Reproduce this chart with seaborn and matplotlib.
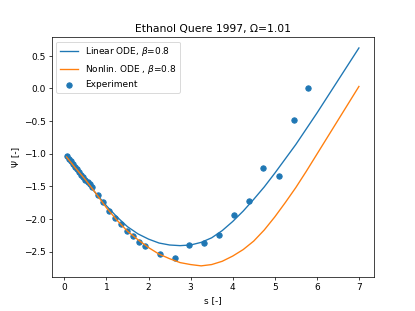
import numpy as np
import seaborn as sns
import matplotlib.pyplot as plt

# model curves
s_model = [0.05, 0.25, 0.5, 0.75, 1.0, 1.25, 1.5, 1.75, 2.0, 2.25, 2.5, 2.75, 3.0,
           3.25, 3.5, 3.75, 4.0, 4.25, 4.5, 4.75, 5.0, 5.25, 5.5, 5.75, 6.0,
           6.25, 6.5, 6.75, 7.0]
psi_linear = [-1.05, -1.21, -1.41, -1.61, -1.80, -1.97, -2.12, -2.23, -2.31, -2.37, -2.40, -2.41, -2.40,
              -2.36, -2.29, -2.18, -2.04, -1.88, -1.70, -1.51, -1.30, -1.08, -0.86, -0.62, -0.38,
              -0.13, 0.12, 0.37, 0.62]
psi_nonlin = [-1.05, -1.21, -1.40, -1.61, -1.83, -2.02, -2.19, -2.32, -2.44, -2.54, -2.61, -2.67, -2.70,
              -2.72, -2.70, -2.65, -2.57, -2.47, -2.34, -2.17, -1.97, -1.75, -1.52, -1.27, -1.01,
              -0.75, -0.49, -0.23, 0.03]

# experiment (Quere 1997)
s_exp = [0.05, 0.10, 0.15, 0.20, 0.25, 0.30, 0.35, 0.40, 0.45, 0.50, 0.55, 0.60, 0.65,
         0.79, 0.91, 1.06, 1.20, 1.34, 1.48, 1.62, 1.77, 1.92,
         2.27, 2.63, 2.97, 3.32, 3.68, 4.04, 4.38, 4.73, 5.09, 5.45, 5.80]
psi_exp = [-1.04, -1.08, -1.12, -1.16, -1.20, -1.24, -1.28, -1.32, -1.36, -1.40, -1.44, -1.47, -1.51,
           -1.64, -1.74, -1.88, -1.98, -2.08, -2.18, -2.26, -2.36, -2.41,
           -2.54, -2.60, -2.40, -2.37, -2.24, -1.94, -1.73, -1.22, -1.34, -0.48, 0.00]

fig, ax = plt.subplots(figsize=(6.4, 4.8), dpi=64.85)

sns.lineplot(x=s_model, y=psi_linear, ax=ax, color='tab:blue', label=r'Linear ODE, $\beta$=0.8')
sns.lineplot(x=s_model, y=psi_nonlin, ax=ax, color='tab:orange', label=r'Nonlin. ODE , $\beta$=0.8')
sns.scatterplot(x=s_exp, y=psi_exp, ax=ax, color='tab:blue', s=36,
                edgecolor='tab:blue', linewidth=1.0, label='Experiment')

ax.set_title('Ethanol Quere 1997, Ω=1.01')
ax.set_xlabel('s [-]')
ax.set_ylabel('Ψ [-]')
ax.legend(loc='upper left')

fig.savefig('out.png', dpi=64.85)
